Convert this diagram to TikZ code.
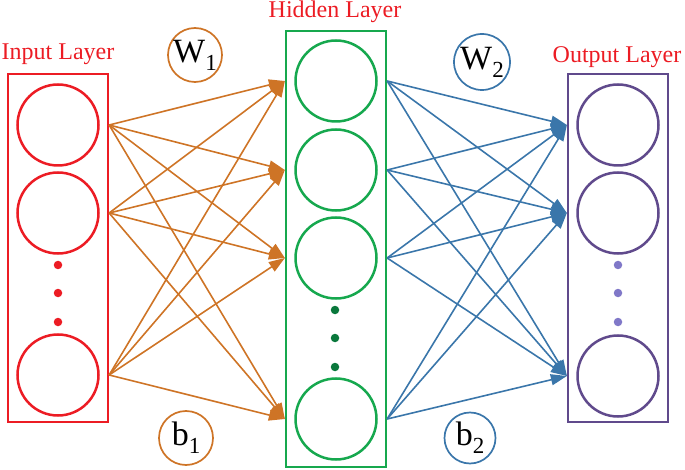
\documentclass[tikz,border=0pt]{standalone}
\usepackage{fontspec}
\setmainfont{Liberation Serif}
\usetikzlibrary{arrows.meta}

\definecolor{titlered}{RGB}{236,28,36}
\definecolor{inred}{RGB}{236,28,36}
\definecolor{hidgreen}{RGB}{22,168,78}
\definecolor{hiddot}{RGB}{10,120,60}
\definecolor{outpurple}{RGB}{96,74,140}
\definecolor{outdot}{RGB}{128,120,200}
\definecolor{worange}{RGB}{206,116,38}
\definecolor{wblue}{RGB}{58,118,170}

\begin{document}
\begin{tikzpicture}[x=1pt, y=-1pt]
  \tikzstyle{neuron}=[circle, draw, line width=2.5pt, minimum size=81pt, inner sep=0pt]
  \tikzstyle{layerbox}=[rectangle, draw, line width=2.3pt, minimum width=100pt, inner sep=0pt]
  \tikzstyle{coef}=[circle, draw, line width=1.7pt, minimum size=54pt, inner sep=0pt, text=black, font=\fontsize{34}{36}\selectfont]
  \tikzstyle{vdot}=[circle, minimum size=8.5pt, inner sep=0pt]
  \tikzstyle{title}=[text=titlered, anchor=base, font=\fontsize{24}{28}\selectfont]
  \tikzstyle{wone}=[color=worange, line width=1.6pt, -{Triangle[length=16pt, width=11pt]}]
  \tikzstyle{wtwo}=[color=wblue, line width=1.6pt, -{Triangle[length=16pt, width=11pt]}]

  \useasboundingbox (0,0) rectangle (685,470);

  % layer frames
  \node[layerbox, draw=inred,     minimum height=348pt] (inbox)  at (58,  248) {};
  \node[layerbox, draw=hidgreen,  minimum height=436pt] (hidbox) at (336, 249) {};
  \node[layerbox, draw=outpurple, minimum height=348pt] (outbox) at (618, 248) {};

  \node[title] (intitle)  at (58,  60) {Input Layer};
  \node[title] (hidtitle) at (335, 18) {Hidden Layer};
  \node[title] (outtitle) at (617, 63) {Output Layer};

  % input layer
  \node[neuron, draw=inred] (i1) at (58, 125) {};
  \node[neuron, draw=inred] (i2) at (58, 213) {};
  \node[neuron, draw=inred] (i3) at (58, 375) {};
  \node[vdot, fill=inred] (id1) at (58, 265) {};
  \node[vdot, fill=inred] (id2) at (58, 293) {};
  \node[vdot, fill=inred] (id3) at (58, 322) {};

  % hidden layer
  \node[neuron, draw=hidgreen] (h1) at (336, 81)  {};
  \node[neuron, draw=hidgreen] (h2) at (336, 170) {};
  \node[neuron, draw=hidgreen] (h3) at (336, 258) {};
  \node[neuron, draw=hidgreen] (h4) at (336, 419) {};
  \node[vdot, fill=hiddot] (hd1) at (335, 310) {};
  \node[vdot, fill=hiddot] (hd2) at (335, 338) {};
  \node[vdot, fill=hiddot] (hd3) at (335, 367) {};

  % output layer
  \node[neuron, draw=outpurple] (o1) at (618, 125) {};
  \node[neuron, draw=outpurple] (o2) at (618, 213) {};
  \node[neuron, draw=outpurple] (o3) at (618, 376) {};
  \node[vdot, fill=outdot] (od1) at (618, 265) {};
  \node[vdot, fill=outdot] (od2) at (618, 293) {};
  \node[vdot, fill=outdot] (od3) at (618, 322) {};

  % weights and biases
  \node[coef, draw=worange] (w1) at (195, 55)  {W\raisebox{-8pt}{\fontsize{23}{23}\selectfont 1}};
  \node[coef, draw=wblue, minimum size=56pt] (w2) at (482, 62) {W\raisebox{-8pt}{\fontsize{23}{23}\selectfont 2}};
  \node[coef, draw=worange] (b1) at (186, 438) {b\raisebox{-8pt}{\fontsize{23}{23}\selectfont 1}};
  \node[coef, draw=wblue, minimum size=51pt] (b2) at (470, 438) {b\raisebox{-8pt}{\fontsize{23}{23}\selectfont 2}};

  % input -> hidden
  \draw[wone] (i1 -| inbox.east) -- (h1 -| hidbox.west);
  \draw[wone] (i1 -| inbox.east) -- (h2 -| hidbox.west);
  \draw[wone] (i1 -| inbox.east) -- (h3 -| hidbox.west);
  \draw[wone] (i1 -| inbox.east) -- (h4 -| hidbox.west);
  \draw[wone] (i2 -| inbox.east) -- (h1 -| hidbox.west);
  \draw[wone] (i2 -| inbox.east) -- (h2 -| hidbox.west);
  \draw[wone] (i2 -| inbox.east) -- (h3 -| hidbox.west);
  \draw[wone] (i2 -| inbox.east) -- (h4 -| hidbox.west);
  \draw[wone] (i3 -| inbox.east) -- (h1 -| hidbox.west);
  \draw[wone] (i3 -| inbox.east) -- (h2 -| hidbox.west);
  \draw[wone] (i3 -| inbox.east) -- (h3 -| hidbox.west);
  \draw[wone] (i3 -| inbox.east) -- (h4 -| hidbox.west);

  % hidden -> output
  \draw[wtwo] (h1 -| hidbox.east) -- (o1 -| outbox.west);
  \draw[wtwo] (h1 -| hidbox.east) -- (o2 -| outbox.west);
  \draw[wtwo] (h1 -| hidbox.east) -- (o3 -| outbox.west);
  \draw[wtwo] (h2 -| hidbox.east) -- (o1 -| outbox.west);
  \draw[wtwo] (h2 -| hidbox.east) -- (o2 -| outbox.west);
  \draw[wtwo] (h2 -| hidbox.east) -- (o3 -| outbox.west);
  \draw[wtwo] (h3 -| hidbox.east) -- (o1 -| outbox.west);
  \draw[wtwo] (h3 -| hidbox.east) -- (o2 -| outbox.west);
  \draw[wtwo] (h3 -| hidbox.east) -- (o3 -| outbox.west);
  \draw[wtwo] (h4 -| hidbox.east) -- (o1 -| outbox.west);
  \draw[wtwo] (h4 -| hidbox.east) -- (o2 -| outbox.west);
  \draw[wtwo] (h4 -| hidbox.east) -- (o3 -| outbox.west);

\end{tikzpicture}
\end{document}
